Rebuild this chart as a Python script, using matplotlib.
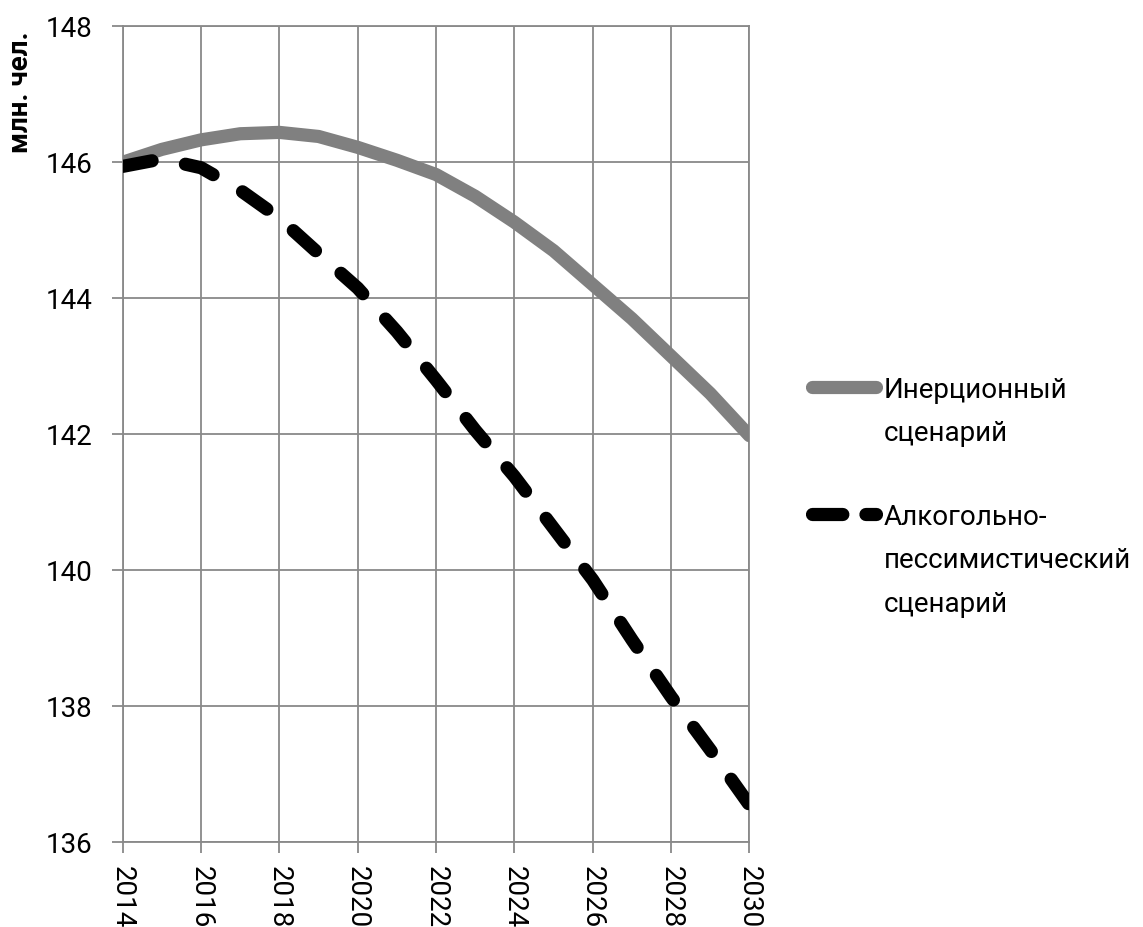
import matplotlib.pyplot as plt
from matplotlib.lines import Line2D

# Population forecast, million people
years = [2014, 2015, 2016, 2017, 2018, 2019, 2020, 2021, 2022,
         2023, 2024, 2025, 2026, 2027, 2028, 2029, 2030]
inertial = [146.00, 146.19, 146.33, 146.42, 146.44, 146.38, 146.22, 146.03, 145.82,
            145.50, 145.12, 144.70, 144.20, 143.70, 143.15, 142.60, 141.98]
alcohol = [145.94, 146.05, 145.92, 145.59, 145.18, 144.66, 144.15, 143.51, 142.80,
           142.06, 141.38, 140.62, 139.86, 138.98, 138.14, 137.36, 136.55]
series_labels = ['Инерционный\nсценарий', 'Алкогольно-\nпессимистический\nсценарий']
y_label = 'млн. чел.'
x_ticks = list(range(2014, 2031, 2))
y_ticks = list(range(136, 149, 2))

plt.rcParams['font.family'] = ['Roboto', 'DejaVu Sans']

W, H = 1143, 927
fig = plt.figure(figsize=(W / 100, H / 100), dpi=100)
ax = fig.add_axes([122.7 / W, 1 - 842.3 / H, (749.4 - 122.7) / W, (842.3 - 26.3) / H])

grid_c = '#898989'
lw = 9.5

ax.plot(years, inertial, color='#808080', lw=lw, solid_capstyle='round',
        solid_joinstyle='round', zorder=3)
ax.plot(years, alcohol, color='black', lw=lw, dashes=(2.27, 2.58),
        dash_capstyle='round', dash_joinstyle='round', zorder=4)

ax.set_xlim(2014, 2030)
ax.set_ylim(136, 148)
ax.set_xticks(x_ticks)
ax.set_yticks(y_ticks)
ax.set_xticklabels([str(x) for x in x_ticks], rotation=270, fontsize=20)
ax.set_yticklabels([str(y) for y in y_ticks], fontsize=20)
ax.grid(True, color=grid_c, lw=1.3, zorder=0)
ax.set_axisbelow(True)
for s in ax.spines.values():
    s.set_color(grid_c)
    s.set_linewidth(1.3)
ax.tick_params(axis='both', direction='out', length=8, width=1.3, color=grid_c)
ax.tick_params(axis='y', pad=14)
ax.tick_params(axis='x', pad=9)

fig.text(21 / W, 1 - 31 / H, y_label, rotation=90, ha='center', va='top',
         fontsize=20, fontweight='bold')

# legend drawn by hand so the handle sits on the first text line
handle_styles = [dict(color='#808080', solid_capstyle='round'),
                 dict(color='black', dashes=(2.3, 1.75), dash_capstyle='round')]
handle_y = [386.7, 514.0]
for label, style, hy in zip(series_labels, handle_styles, handle_y):
    fig.add_artist(Line2D([811.5 / W, 876.5 / W], [1 - hy / H, 1 - hy / H],
                          lw=lw, transform=fig.transFigure, **style))
    for i, line in enumerate(label.split('\n')):
        fig.text(884 / W, 1 - (hy + 11 + i * 43.5) / H, line,
                 ha='left', va='baseline', fontsize=20)

fig.savefig('out.png', dpi=100)
plt.close(fig)
